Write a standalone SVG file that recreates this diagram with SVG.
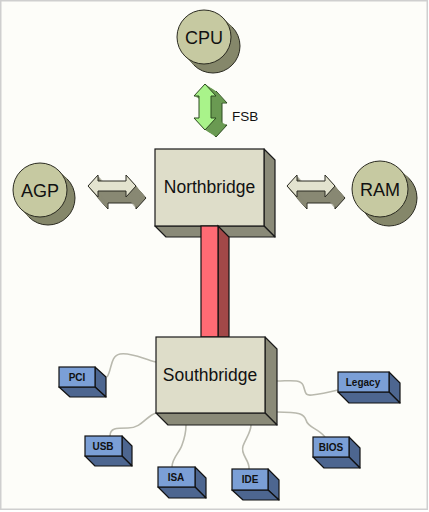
<svg xmlns="http://www.w3.org/2000/svg" xmlns:xlink="http://www.w3.org/1999/xlink" width="429" height="512" viewBox="0 0 429 512">
<style>
.frame{fill:#fdfdf9;stroke:#cfcfcf;stroke-width:1.5}
.cfront{fill:#c6c9a1;stroke:#2a2a20;stroke-width:1}
.cback{fill:#85876a;stroke:#2a2a20;stroke-width:1}
.cside{fill:#85876a}
.bfront{fill:#deddc9;stroke:#1a1a1a;stroke-width:1.2}
.bside{fill:#8a8a78;stroke:#1a1a1a;stroke-width:1.2;stroke-linejoin:round}
.dfront{fill:#7b9fd6;stroke:#111;stroke-width:1.2}
.dside{fill:#4d6690;stroke:#111;stroke-width:1.2;stroke-linejoin:round}
.big{font-family:"Liberation Sans",Arial,sans-serif;font-size:18px;fill:#111;text-anchor:middle}
.mid{font-family:"Liberation Sans",Arial,sans-serif;font-size:17.5px;fill:#111;text-anchor:middle}
.small{font-family:"Liberation Sans",Arial,sans-serif;font-size:10px;font-weight:bold;fill:#111;text-anchor:middle}
.lbl{font-family:"Liberation Sans",Arial,sans-serif;font-size:13.5px;fill:#111}
.wire{fill:none;stroke:#b9b9ae;stroke-width:1.6}
.gdark{fill:#6a9a52}
.gfront{fill:#a9f38a;stroke:#2d4a20;stroke-width:1}
.hdark{fill:#888873}
.hfront{fill:#e3e3cf;stroke:#2a2a22;stroke-width:1}
.rfront{fill:#ff6b74;stroke:#111;stroke-width:1.2}
.rside{fill:#a24848;stroke:#111;stroke-width:1.2}
</style>
<defs>
<polygon id="va" points="0,0 11,12 6,12 6,34 11,34 0,46 -11,34 -6,34 -6,12 -11,12"/>
<polygon id="ha" points="0,0 10,-11 10,-5 38,-5 38,-11 48,0 38,11 38,5 10,5 10,11"/>
</defs>
<rect class="frame" x="0.75" y="0.75" width="426.5" height="508.5"/>

<g id="connectors">
  <g id="fsb">
    <use xlink:href="#va" class="gdark" transform="translate(216,91)" stroke="#2d4a20" stroke-width="1"/>
    <use xlink:href="#va" class="gdark" transform="translate(215,90.4)"/>
    <use xlink:href="#va" class="gdark" transform="translate(214,89.7)"/>
    <use xlink:href="#va" class="gdark" transform="translate(213,89.1)"/>
    <use xlink:href="#va" class="gdark" transform="translate(212,88.5)"/>
    <use xlink:href="#va" class="gdark" transform="translate(211,87.8)"/>
    <use xlink:href="#va" class="gdark" transform="translate(210,87.2)"/>
    <use xlink:href="#va" class="gdark" transform="translate(209,86.5)"/>
    <use xlink:href="#va" class="gdark" transform="translate(208,85.9)"/>
    <use xlink:href="#va" class="gdark" transform="translate(207,85.3)"/>
    <use xlink:href="#va" class="gdark" transform="translate(206,84.6)"/>
    <use xlink:href="#va" class="gfront" transform="translate(205,84)"/>
    <text class="lbl" x="232" y="121">FSB</text>
  </g>
  <g id="agp-link">
    <use xlink:href="#ha" class="hdark" transform="translate(98,198)" stroke="#2a2a22" stroke-width="1"/>
    <use xlink:href="#ha" class="hdark" transform="translate(97.2,197)"/>
    <use xlink:href="#ha" class="hdark" transform="translate(96.3,196)"/>
    <use xlink:href="#ha" class="hdark" transform="translate(95.5,195)"/>
    <use xlink:href="#ha" class="hdark" transform="translate(94.7,194)"/>
    <use xlink:href="#ha" class="hdark" transform="translate(93.8,193)"/>
    <use xlink:href="#ha" class="hdark" transform="translate(93,192)"/>
    <use xlink:href="#ha" class="hdark" transform="translate(92.2,191)"/>
    <use xlink:href="#ha" class="hdark" transform="translate(91.3,190)"/>
    <use xlink:href="#ha" class="hdark" transform="translate(90.5,189)"/>
    <use xlink:href="#ha" class="hdark" transform="translate(89.7,188)"/>
    <use xlink:href="#ha" class="hdark" transform="translate(88.8,187)"/>
    <use xlink:href="#ha" class="hfront" transform="translate(88,186)"/>
  </g>
  <g id="ram-link">
    <use xlink:href="#ha" class="hdark" transform="translate(297,198)" stroke="#2a2a22" stroke-width="1"/>
    <use xlink:href="#ha" class="hdark" transform="translate(296.2,197)"/>
    <use xlink:href="#ha" class="hdark" transform="translate(295.3,196)"/>
    <use xlink:href="#ha" class="hdark" transform="translate(294.5,195)"/>
    <use xlink:href="#ha" class="hdark" transform="translate(293.7,194)"/>
    <use xlink:href="#ha" class="hdark" transform="translate(292.8,193)"/>
    <use xlink:href="#ha" class="hdark" transform="translate(292,192)"/>
    <use xlink:href="#ha" class="hdark" transform="translate(291.2,191)"/>
    <use xlink:href="#ha" class="hdark" transform="translate(290.3,190)"/>
    <use xlink:href="#ha" class="hdark" transform="translate(289.5,189)"/>
    <use xlink:href="#ha" class="hdark" transform="translate(288.7,188)"/>
    <use xlink:href="#ha" class="hdark" transform="translate(287.8,187)"/>
    <use xlink:href="#ha" class="hfront" transform="translate(287,186)"/>
  </g>
  <g id="wires">
    <path class="wire" d="M107,377 C112,370 110,356 120,354 C132,352 145,360 156,362"/>
    <path class="wire" d="M110,436 C110,428 116,428 128,428 C142,428 146,416 156,413"/>
    <path class="wire" d="M172,467 C172,458 180,452 182,445 C185,437 186,430 186,425"/>
    <path class="wire" d="M249,469 C250,460 240,455 243,446 C246,438 251,432 251,425"/>
    <path class="wire" d="M325,437 C318,428 308,428 306,420 C304,414 300,412 277,412"/>
    <path class="wire" d="M277,381 C290,381 300,379 303,385 C306,392 304,396 312,395 C322,394 330,392 338,390"/>
  </g>
</g>

<g id="cpu">
  <circle class="cback" cx="213" cy="46" r="27"/>
  <polygon class="cside" points="223.1,17.9 232.1,26.9 193.9,65.1 184.9,56.1"/>
  <circle class="cfront" cx="204" cy="37" r="27"/>
  <text class="big" x="204" y="43.5">CPU</text>
</g>
<g id="agp">
  <circle class="cback" cx="48" cy="198" r="27"/>
  <polygon class="cside" points="59.1,170.9 67.1,178.9 28.9,217.1 20.9,209.1"/>
  <circle class="cfront" cx="40" cy="190" r="27"/>
  <text class="big" x="40" y="196.5" font-size="19">AGP</text>
</g>
<g id="ram">
  <circle class="cback" cx="389" cy="198" r="28"/>
  <polygon class="cside" points="399.8,169.2 408.8,178.2 369.2,216.8 360.2,207.8"/>
  <circle class="cfront" cx="380" cy="189" r="28"/>
  <text class="big" x="380" y="195.5">RAM</text>
</g>

<g id="northbridge">
  <polygon class="bside" points="264,149 275,160 275,237 264,226"/>
  <polygon class="bside" points="155,226 264,226 275,237 166,237"/>
  <rect class="bfront" x="155" y="149" width="109" height="77"/>
  <text class="mid" x="209.5" y="193">Northbridge</text>
</g>

<g id="hub-link">
  <polygon class="rside" points="218,226 229,237 229,337 218,337"/>
  <rect class="rfront" x="201" y="226" width="17" height="111"/>
</g>

<g id="southbridge">
  <polygon class="bside" points="265,337 277,349 277,425 265,413"/>
  <polygon class="bside" points="156,413 265,413 277,425 168,425"/>
  <rect class="bfront" x="156" y="337" width="109" height="76"/>
  <text class="mid" x="210" y="381">Southbridge</text>
</g>

<g id="pci">
  <polygon class="dside" points="95,367 106,377 106,397 95,387"/>
  <polygon class="dside" points="59,387 95,387 106,397 70,397"/>
  <rect class="dfront" x="59" y="367" width="36" height="20"/>
  <text class="small" x="77" y="381">PCI</text>
</g>
<g id="usb">
  <polygon class="dside" points="122,436 132,446 132,466 122,456"/>
  <polygon class="dside" points="85,456 122,456 132,466 95,466"/>
  <rect class="dfront" x="85" y="436" width="37" height="20"/>
  <text class="small" x="103" y="450">USB</text>
</g>
<g id="isa">
  <polygon class="dside" points="195,467 206,478 206,498 195,487"/>
  <polygon class="dside" points="158,487 195,487 206,498 169,498"/>
  <rect class="dfront" x="158" y="467" width="37" height="20"/>
  <text class="small" x="176" y="481">ISA</text>
</g>
<g id="ide">
  <polygon class="dside" points="268,469 279,480 279,500 268,490"/>
  <polygon class="dside" points="232,490 268,490 279,500 243,500"/>
  <rect class="dfront" x="232" y="469" width="36" height="21"/>
  <text class="small" x="250" y="483">IDE</text>
</g>
<g id="bios">
  <polygon class="dside" points="349,437 360,448 360,468 349,457"/>
  <polygon class="dside" points="313,457 349,457 360,468 324,468"/>
  <rect class="dfront" x="313" y="437" width="36" height="20"/>
  <text class="small" x="331" y="451">BIOS</text>
</g>
<g id="legacy">
  <polygon class="dside" points="389,372 400,383 400,403 389,392"/>
  <polygon class="dside" points="338,392 389,392 400,403 349,403"/>
  <rect class="dfront" x="338" y="372" width="51" height="20"/>
  <text class="small" x="363" y="386">Legacy</text>
</g>
</svg>
